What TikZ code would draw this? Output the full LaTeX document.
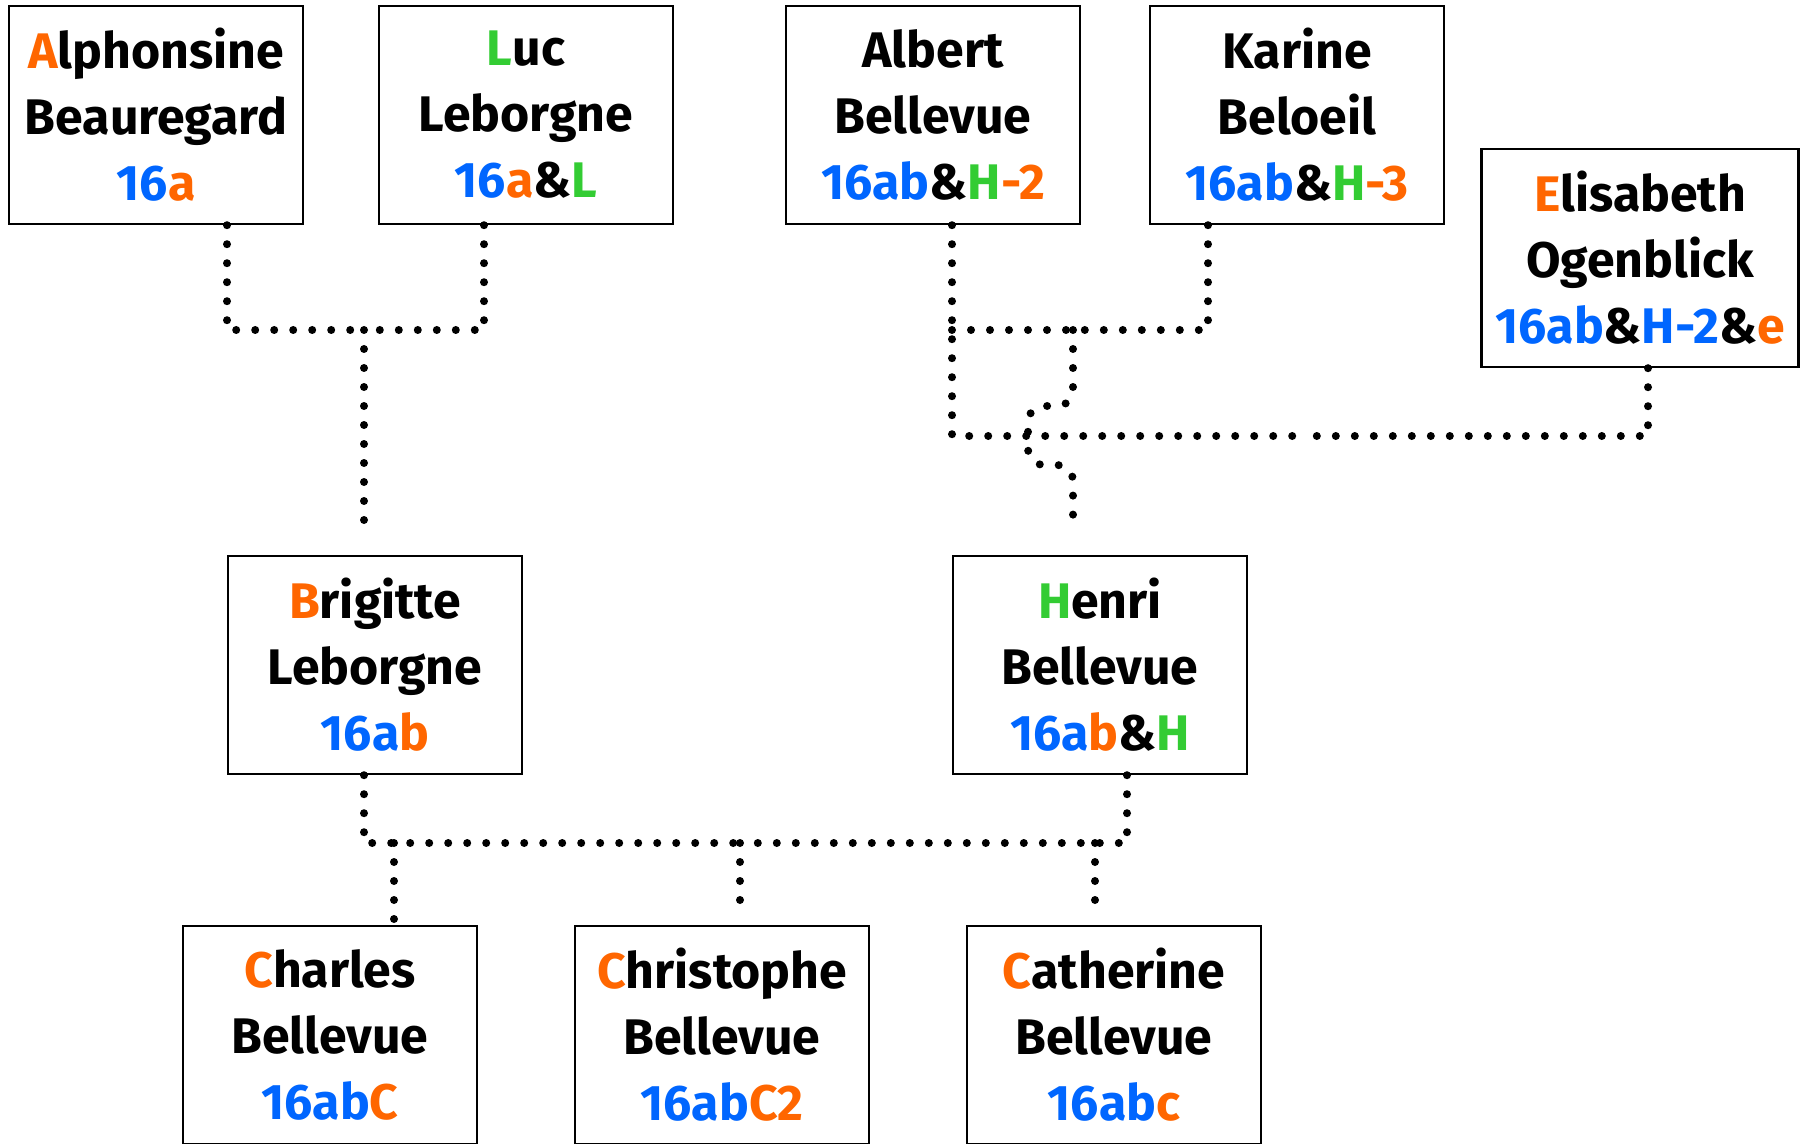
\documentclass[tikz,border=0pt]{standalone}
\usepackage{fontspec}
\setmainfont{Fira Sans}
\usepackage{tikz}
\usetikzlibrary{calc}
\usepackage{xcolor}

\definecolor{orng}{HTML}{FF6600}
\definecolor{blu}{HTML}{0066FF}
\definecolor{grn}{HTML}{33CC33}
\newcommand{\ora}[1]{\textcolor{orng}{#1}}
\newcommand{\blc}[1]{\textcolor{blu}{#1}}
\newcommand{\gre}[1]{\textcolor{grn}{#1}}

\begin{document}
\begin{tikzpicture}[x=0.5pt,y=-0.5pt,
    person/.style={draw, line width=1.2pt, rectangle, align=center,
      minimum width=147pt, minimum height=109pt, inner sep=0pt,
      font=\fontsize{25}{33}\selectfont\bfseries},
    kin/.style={line width=4pt, line cap=round, dash pattern=on 0pt off 9.5pt},
  ]
  \useasboundingbox (0,0) rectangle (1808,1144);

  \node[person] (alph) at (156,115) {\ora{A}lphonsine\\Beauregard\\\blc{16}\ora{a}};
  \node[person] (luc)  at (526,115) {\gre{L}uc\\Leborgne\\\blc{16}\ora{a}\&\gre{L}};
  \node[person] (albe) at (933,115) {Albert\\Bellevue\\\blc{16ab}\&\gre{H}\ora{-2}};
  \node[person] (kari) at (1297,115) {Karine\\Beloeil\\\blc{16ab}\&\gre{H}\ora{-3}};
  \node[person, minimum width=158.5pt] (elis) at (1640,258) {\ora{E}lisabeth\\Ogenblick\\\blc{16ab}\&\blc{H-2}\&\ora{e}};

  \node[person] (brig) at (375,665) {\ora{B}rigitte\\Leborgne\\\blc{16a}\ora{b}};
  \node[person] (henr) at (1100,665) {\gre{H}enri\\Bellevue\\\blc{16a}\ora{b}\&\gre{H}};

  \node[person] (char) at (330,1035) {\ora{C}harles\\Bellevue\\\blc{16ab}\ora{C}};
  \node[person] (chri) at (722,1035) {\ora{C}hristophe\\Bellevue\\\blc{16ab}\ora{C2}};
  \node[person] (cath) at (1114,1035) {\ora{C}atherine\\Bellevue\\\blc{16ab}\ora{c}};

  % unions
  \coordinate (al) at (364,330);
  \coordinate (ak) at (1073,330);
  \coordinate (ae) at (1300,436);
  \coordinate (bh) at (740,843);
  \coordinate (ad) at ($(albe.south)+(19,0)$);

  \draw[kin] ($(alph.south)+(71,0)$) |- (al);
  \draw[kin] ($(luc.south)+(-42,0)$) |- (al);
  \draw[kin] (al) -- ($(brig.north)+(-11,-18)$);

  \draw[kin] (ad) |- (ae);
  \draw[kin] ($(elis.south)+(8,0)$) |- (ae);
  \draw[kin] (ad |- ak) -- (ak);
  \draw[kin] ($(kari.south)+(-89,0)$) |- (ak);
  \draw[kin, rounded corners=8pt] (ak) -- ++(0,76) -- ++(-45,0) -- ++(0,59) -- ++(45,0)
    -- ($(henr.north)+(-27,-34)$);

  \draw[kin] ($(brig.south)+(-11,0)$) |- (bh);
  \draw[kin] ($(henr.south)+(27,0)$) |- (bh);
  \coordinate (cs) at ($(char.north)+(64,-4)$);
  \coordinate (ts) at ($(chri.north)+(18,-15)$);
  \coordinate (as) at ($(cath.north)+(-19,-15)$);
  \draw[kin] (cs |- bh) -- (cs);
  \draw[kin] (ts |- bh) -- (ts);
  \draw[kin] (as |- bh) -- (as);
\end{tikzpicture}
\end{document}
